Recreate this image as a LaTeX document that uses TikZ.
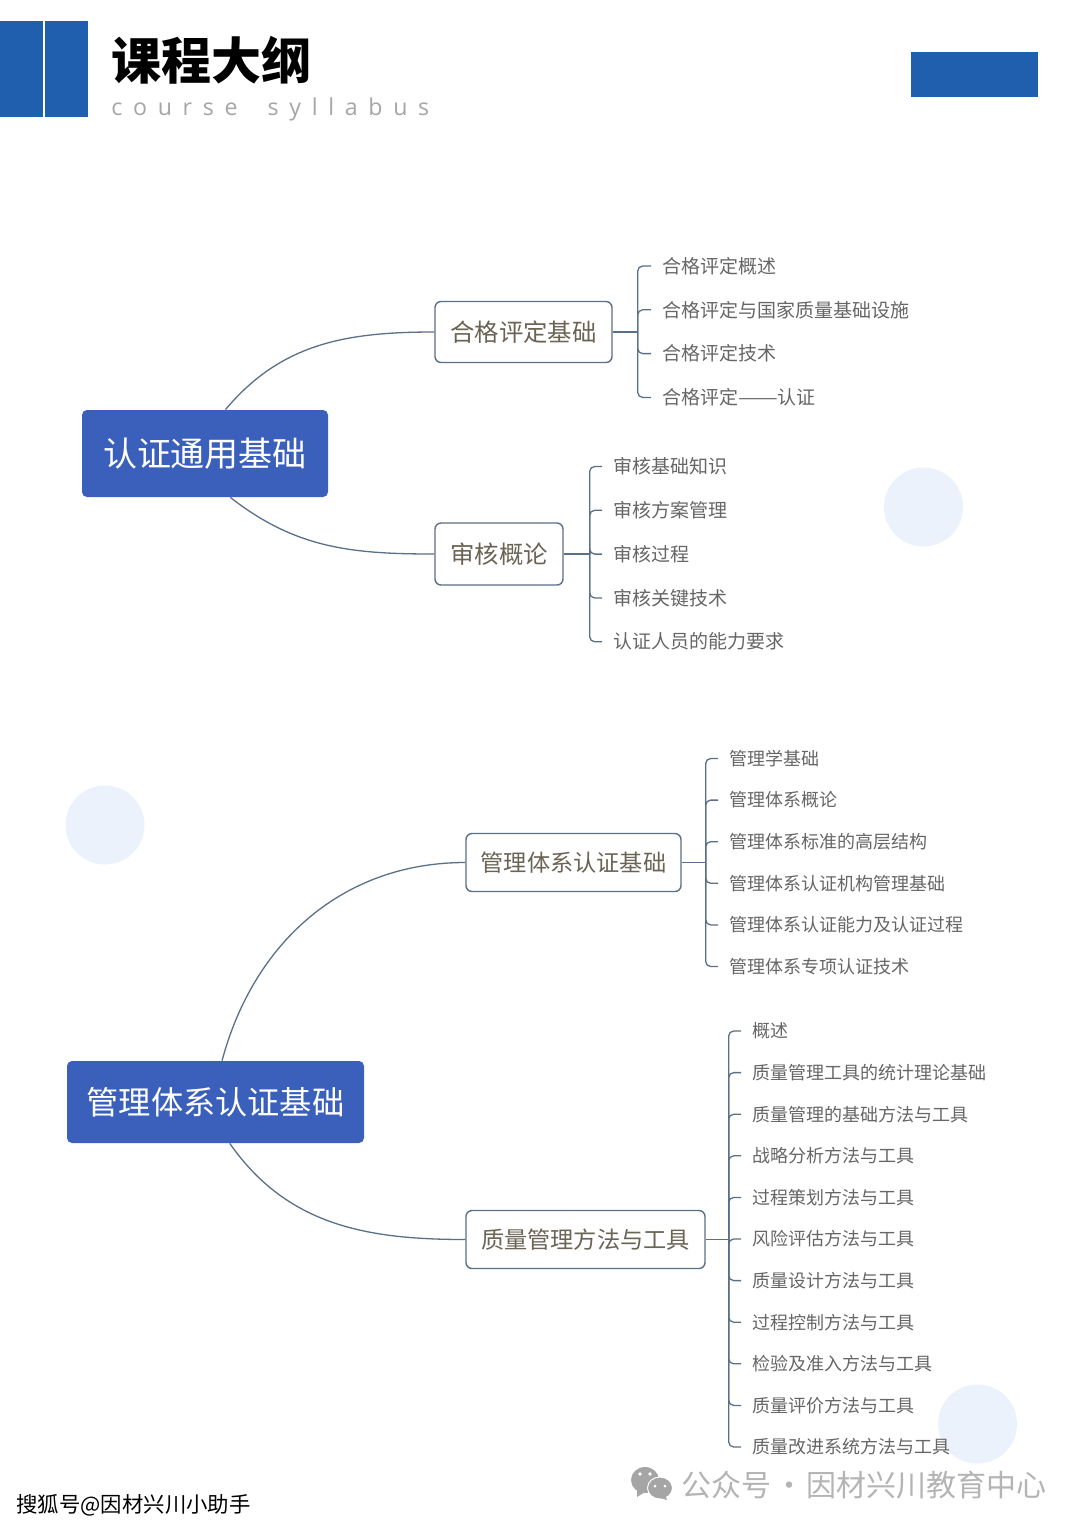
\documentclass[tikz,border=0pt]{standalone}
\usepackage{fontspec}
\usepackage{xcolor}
\setmainfont[Script=CJK]{Noto Sans CJK SC}
\newfontfamily\latinlight[LetterSpace=46,WordSpace=1.8]{Open Sans}
\usetikzlibrary{positioning}
\definecolor{barblue}{HTML}{1F5FAE}
\definecolor{rootblue}{HTML}{3A60BC}
\definecolor{linegrey}{HTML}{5A7088}
\definecolor{midtext}{HTML}{6B6455}
\definecolor{leaftext}{HTML}{666666}
\definecolor{dotblue}{HTML}{EBF2FC}
\definecolor{markgrey}{HTML}{B4B4B4}
\tikzset{
  rootbox/.style={rectangle, rounded corners=2.5pt, fill=rootblue, text=white, inner sep=0pt},
  midbox/.style={rectangle, rounded corners=3pt, draw=linegrey, line width=0.7pt, fill=white, text=midtext, inner sep=0pt, font=\fontsize{12.2}{14}\selectfont},
  midboxb/.style={midbox, font=\fontsize{11.6}{14}\selectfont},
  leaf/.style={anchor=west, text=leaftext, inner ysep=0pt, inner xsep=5.5pt, outer sep=0pt, font=\fontsize{9.5}{12}\selectfont},
  leafb/.style={leaf, font=\fontsize{9}{12}\selectfont},
  leafbelow/.style={below=of #1.west, anchor=west},
  trunk/.style={draw=linegrey, line width=0.65pt},
  branch/.style={trunk, rounded corners=2.5pt},
  dot/.style={circle, fill=dotblue, minimum size=39.5pt, inner sep=0pt}
}
\begin{document}
\begin{tikzpicture}[x=0.5pt, y=-0.5pt, node distance=21.9pt]
    \useasboundingbox (0,0) rectangle (1080,1528);
    \fill[white] (0,0) rectangle (1080,1528);
    \fill[barblue] (0,21) rectangle (43,117);
    \fill[barblue] (45,21) rectangle (88,117);
    \fill[barblue] (911,52) rectangle (1038,97);
    \node[dot] (dot1) at (923.5,507) {};
    \node[dot] (dot2) at (105,825) {};
    \node[dot] (dot3) at (977.5,1424) {};

    \node[anchor=west, inner sep=0pt, font=\fontsize{25}{30}\selectfont\bfseries] (title) at (111.5,60) {课程大纲};
    \node[anchor=west, inner sep=0pt, text=black!35, font=\fontsize{11.6}{14}\latinlight] (subtitle) at (111,109) {course syllabus};

    \node[rootbox, minimum width=123pt, minimum height=43.5pt, font=\fontsize{17}{20}\selectfont] (general) at (205,453.5) {认证通用基础};
    \node[midbox, minimum width=88.5pt, minimum height=30.5pt] (basics) at (523.5,332) {合格评定基础};
    \node[midbox, minimum width=64pt, minimum height=31pt] (audit) at (499,554) {审核概论};
    \coordinate[right=12.5pt of basics.east] (basicshub);
    \coordinate[right=13pt of audit.east] (audithub);

    \node[leaf] (basics1) at (651,266) {合格评定概述};
    \node[leaf, leafbelow=basics1] (basics2) {合格评定与国家质量基础设施};
    \node[leaf, leafbelow=basics2] (basics3) {合格评定技术};
    \node[leaf, leafbelow=basics3] (basics4) {合格评定\scalebox{1.25}[1]{——}认证};

    \node[leaf] (audit1) at (602,466.5) {审核基础知识};
    \node[leaf, leafbelow=audit1] (audit2) {审核方案管理};
    \node[leaf, leafbelow=audit2] (audit3) {审核过程};
    \node[leaf, leafbelow=audit3] (audit4) {审核关键技术};
    \node[leaf, leafbelow=audit4] (audit5) {认证人员的能力要求};

    \draw[trunk] (general.65) to[out=50, in=180] (basics.west);
    \draw[trunk] (general.300) to[out=-38, in=180] (audit.west);
    \draw[trunk] (basics.east) -- (basicshub);
    \draw[trunk] (audit.east) -- (audithub);
    \draw[branch] (basicshub) |- (basics1.west);
    \draw[branch] (basicshub) |- (basics2.west);
    \draw[branch] (basicshub) |- (basics3.west);
    \draw[branch] (basicshub) |- (basics4.west);
    \draw[branch] (audithub) |- (audit1.west);
    \draw[branch] (audithub) |- (audit2.west);
    \draw[branch] (audithub) |- (audit3.west);
    \draw[branch] (audithub) |- (audit4.west);
    \draw[branch] (audithub) |- (audit5.west);

    \begin{scope}[node distance=20.8pt]
    \node[rootbox, minimum width=148.5pt, minimum height=41pt, font=\fontsize{16.1}{20}\selectfont] (system) at (215.5,1102) {管理体系认证基础};
    \node[midboxb, minimum width=107.5pt, minimum height=29pt] (cert) at (573.5,862.5) {管理体系认证基础};
    \node[midboxb, minimum width=119.5pt, minimum height=29pt] (tools) at (585.5,1239.5) {质量管理方法与工具};
    \coordinate[right=12pt of cert.east] (certhub);
    \coordinate[right=11.5pt of tools.east] (toolshub);

    \node[leafb] (cert1) at (718,758.5) {管理学基础};
    \node[leafb, leafbelow=cert1] (cert2) {管理体系概论};
    \node[leafb, leafbelow=cert2] (cert3) {管理体系标准的高层结构};
    \node[leafb, leafbelow=cert3] (cert4) {管理体系认证机构管理基础};
    \node[leafb, leafbelow=cert4] (cert5) {管理体系认证能力及认证过程};
    \node[leafb, leafbelow=cert5] (cert6) {管理体系专项认证技术};

    \node[leafb] (tools1) at (741,1031) {概述};
    \node[leafb, leafbelow=tools1] (tools2) {质量管理工具的统计理论基础};
    \node[leafb, leafbelow=tools2] (tools3) {质量管理的基础方法与工具};
    \node[leafb, leafbelow=tools3] (tools4) {战略分析方法与工具};
    \node[leafb, leafbelow=tools4] (tools5) {过程策划方法与工具};
    \node[leafb, leafbelow=tools5] (tools6) {风险评估方法与工具};
    \node[leafb, leafbelow=tools6] (tools7) {质量设计方法与工具};
    \node[leafb, leafbelow=tools7] (tools8) {过程控制方法与工具};
    \node[leafb, leafbelow=tools8] (tools9) {检验及准入方法与工具};
    \node[leafb, leafbelow=tools9] (tools10) {质量评价方法与工具};
    \node[leafb, leafbelow=tools10] (tools11) {质量改进系统方法与工具};

    \draw[trunk] (system.81) to[out=75, in=180] (cert.west);
    \draw[trunk] (system.289) to[out=-55, in=180] (tools.west);
    \draw[trunk] (cert.east) -- (certhub);
    \draw[trunk] (tools.east) -- (toolshub);
    \draw[branch] (certhub) |- (cert1.west);
    \draw[branch] (certhub) |- (cert2.west);
    \draw[branch] (certhub) |- (cert3.west);
    \draw[branch] (certhub) |- (cert4.west);
    \draw[branch] (certhub) |- (cert5.west);
    \draw[branch] (certhub) |- (cert6.west);
    \draw[branch] (toolshub) |- (tools1.west);
    \draw[branch] (toolshub) |- (tools2.west);
    \draw[branch] (toolshub) |- (tools3.west);
    \draw[branch] (toolshub) |- (tools4.west);
    \draw[branch] (toolshub) |- (tools5.west);
    \draw[branch] (toolshub) |- (tools6.west);
    \draw[branch] (toolshub) |- (tools7.west);
    \draw[branch] (toolshub) |- (tools8.west);
    \draw[branch] (toolshub) |- (tools9.west);
    \draw[branch] (toolshub) |- (tools10.west);
    \draw[branch] (toolshub) |- (tools11.west);
    \end{scope}

    \fill[markgrey!92!black] (645,1480) ellipse [x radius=14, y radius=13];
    \fill[markgrey!92!black] (637,1490) -- (637,1497) -- (645,1492) -- cycle;
    \fill[markgrey!92!black, draw=white, line width=0.5pt] (660,1488) ellipse [x radius=12.5, y radius=11];
    \fill[markgrey!92!black] (666,1497) -- (667,1500) -- (660,1498) -- cycle;
    \fill[white] (640,1474) circle (1.8) (650,1474) circle (1.8) (655,1486) circle (1.5) (665,1486) circle (1.5);
    \node[anchor=west, inner sep=0pt, text=markgrey, font=\fontsize{15}{18}\selectfont] (account) at (681,1485) {公众号\kern1.4pt·\kern1.4pt因材兴川教育中心};
    \node[anchor=west, inner sep=0pt, text=black, font=\fontsize{10.7}{13}\selectfont] (sohu) at (16,1505) {搜狐号@因材兴川小助手};
\end{tikzpicture}
\end{document}
